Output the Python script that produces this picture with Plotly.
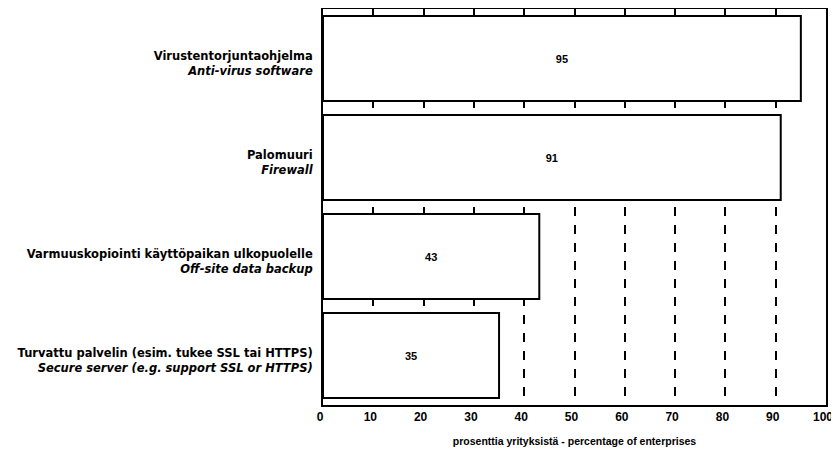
import plotly.graph_objects as go

categories_fi = ["Virustentorjuntaohjelma", "Palomuuri",
                 "Varmuuskopiointi käyttöpaikan ulkopuolelle",
                 "Turvattu palvelin (esim. tukee SSL tai HTTPS)"]
categories_en = ["Anti-virus software", "Firewall", "Off-site data backup",
                 "Secure server (e.g. support SSL or HTTPS)"]
values = [95, 91, 43, 35]
x_ticks = [0, 10, 20, 30, 40, 50, 60, 70, 80, 90, 100]

labels = [f"<b>{fi}</b><br><b><i>{en}</i></b>" for fi, en in zip(categories_fi, categories_en)]

fig = go.Figure(go.Bar(
    x=values, y=labels, orientation="h",
    marker=dict(color="white", line=dict(color="black", width=2)),
    width=0.86,
    text=[f"<b>{v}</b>" for v in values], textposition="inside",
    insidetextanchor="middle",
    textfont=dict(size=11, color="black", family="Liberation Sans"),
))

# page body has an 8px default margin, so the figure is sized to fit inside it
fig.update_layout(
    width=831, height=446,
    margin=dict(l=315, r=13, t=1, b=49),
    plot_bgcolor="white", paper_bgcolor="white",
    font=dict(family="Liberation Sans", color="black", size=11),
    showlegend=False,
    xaxis=dict(range=[0, 100], tickvals=x_ticks, ticktext=[f"<b>{t}</b>" for t in x_ticks],
               showgrid=True, gridcolor="black", griddash="dash", gridwidth=1.5,
               showline=True, linecolor="black", linewidth=2, mirror=True,
               zeroline=False, ticks="", tickfont=dict(size=12), automargin=False,
               ticklabelshift=-3,
               title=dict(text="<b>prosenttia yrityksistä - percentage of enterprises</b>",
                          font=dict(size=10.5), standoff=14)),
    yaxis=dict(autorange="reversed", showline=True, linecolor="black", linewidth=2,
               mirror=True, showgrid=False, ticks="", ticklabelstandoff=6,
               ticklabelshift=-5,
               tickfont=dict(size=11.5, family="DejaVu Sans"), automargin=False),
)

fig.write_html("out.html")
